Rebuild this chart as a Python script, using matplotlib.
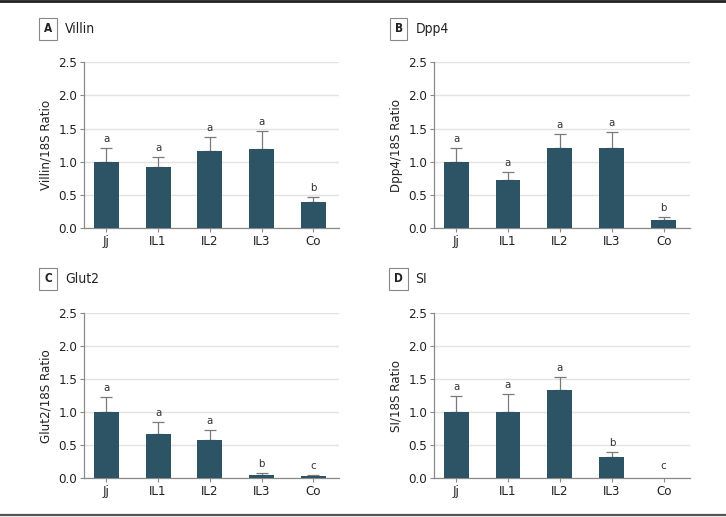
import numpy as np
import matplotlib
matplotlib.use('Agg')
import matplotlib.pyplot as plt
from matplotlib.lines import Line2D

plt.rcParams['font.family'] = ['Liberation Sans Narrow', 'DejaVu Sans']
plt.rcParams['font.stretch'] = 'condensed'

groups = ['Jj', 'IL1', 'IL2', 'IL3', 'Co']

villin_mean = [1.00, 0.92, 1.165, 1.195, 0.40]
villin_err = [0.205, 0.15, 0.21, 0.265, 0.067]
villin_sig = ['a', 'a', 'a', 'a', 'b']

dpp4_mean = [1.00, 0.728, 1.205, 1.21, 0.13]
dpp4_err = [0.205, 0.115, 0.211, 0.236, 0.036]
dpp4_sig = ['a', 'a', 'a', 'a', 'b']

glut2_mean = [1.00, 0.675, 0.585, 0.05, 0.03]
glut2_err = [0.23, 0.172, 0.141, 0.026, 0.015]
glut2_sig = ['a', 'a', 'a', 'b', 'c']

si_mean = [1.00, 1.008, 1.33, 0.328, 0.0]
si_err = [0.24, 0.262, 0.20, 0.072, 0.0]
si_sig = ['a', 'a', 'a', 'b', 'c']

panels = [
    {'tag': 'A', 'name': 'Villin', 'ylabel': 'Villin/18S Ratio',
     'mean': villin_mean, 'err': villin_err, 'sig': villin_sig},
    {'tag': 'B', 'name': 'Dpp4', 'ylabel': 'Dpp4/18S Ratio',
     'mean': dpp4_mean, 'err': dpp4_err, 'sig': dpp4_sig},
    {'tag': 'C', 'name': 'Glut2', 'ylabel': 'Glut2/18S Ratio',
     'mean': glut2_mean, 'err': glut2_err, 'sig': glut2_sig},
    {'tag': 'D', 'name': 'SI', 'ylabel': 'SI/18S Ratio',
     'mean': si_mean, 'err': si_err, 'sig': si_sig},
]

BAR_COLOR = '#2c5465'
SPINE = '#8a8a8a'
GRID = '#e3e3e3'
ERR = '#7a7a7a'
W, H = 726, 517

fig = plt.figure(figsize=(W / 100, H / 100), dpi=100)

# axes rectangles in pixels: left, top(2.5), right, bottom(0)
rects = [(84.3, 62.3, 339.3, 228.3), (434, 62.3, 689.7, 228.3),
         (84.3, 313, 339.3, 478.3), (434, 313, 689.7, 478.3)]
tag_pos = [(48, 29), (398.5, 29), (48, 279), (398.5, 279)]

x = np.arange(len(groups))
for p, (l, t, r, b), (tx, ty) in zip(panels, rects, tag_pos):
    ax = fig.add_axes([l / W, (H - b) / H, (r - l) / W, (b - t) / H])
    ax.bar(x, p['mean'], width=0.48, color=BAR_COLOR, zorder=3)
    errs = np.array(p['err'])
    mask = errs > 0
    ax.errorbar(x[mask], np.array(p['mean'])[mask],
                yerr=[np.zeros(mask.sum()), errs[mask]],
                fmt='none', ecolor=ERR, elinewidth=0.9, capsize=4.5,
                capthick=0.9, zorder=2)
    for xi, m, e, s in zip(x, p['mean'], p['err'], p['sig']):
        ax.annotate(s, (xi, m + e), xytext=(0, 3 if m > 0 else 5),
                    textcoords='offset points', ha='center', va='bottom',
                    fontsize=8.2, color='#333333')
    ax.set_xlim(-0.425, 4.5)
    ax.set_ylim(0, 2.5)
    ax.set_yticks([0, 0.5, 1.0, 1.5, 2.0, 2.5])
    ax.set_yticklabels(['0.0', '0.5', '1.0', '1.5', '2.0', '2.5'])
    ax.set_xticks(x)
    ax.set_xticklabels(groups)
    ax.yaxis.grid(True, color=GRID, linewidth=1.0, zorder=0)
    ax.set_axisbelow(True)
    for side in ['top', 'right']:
        ax.spines[side].set_visible(False)
    for side in ['left', 'bottom']:
        ax.spines[side].set_color(SPINE)
        ax.spines[side].set_linewidth(0.9)
    ax.tick_params(axis='both', colors=SPINE, labelcolor='#222222',
                   labelsize=9.5, length=3, width=0.8, pad=2)
    ax.set_ylabel(p['ylabel'], fontsize=9.5, color='#222222', labelpad=4)

    fig.text(tx / W, 1 - ty / H, p['tag'], ha='center', va='center',
             fontsize=8.5, fontweight='bold', color='#222222',
             bbox=dict(boxstyle='square,pad=0.4', facecolor='white',
                       edgecolor='#888888', linewidth=0.8))
    fig.text((tx + 17) / W, 1 - ty / H, p['name'], ha='left', va='center',
             fontsize=10, color='#222222')

fig.add_artist(Line2D([0, 1], [1 - 1 / H, 1 - 1 / H], color='#222222',
                      linewidth=2.0, transform=fig.transFigure))
fig.add_artist(Line2D([0, 1], [1 - 515 / H, 1 - 515 / H], color='#555555',
                      linewidth=1.6, transform=fig.transFigure))

fig.savefig('out.png', dpi=100)
